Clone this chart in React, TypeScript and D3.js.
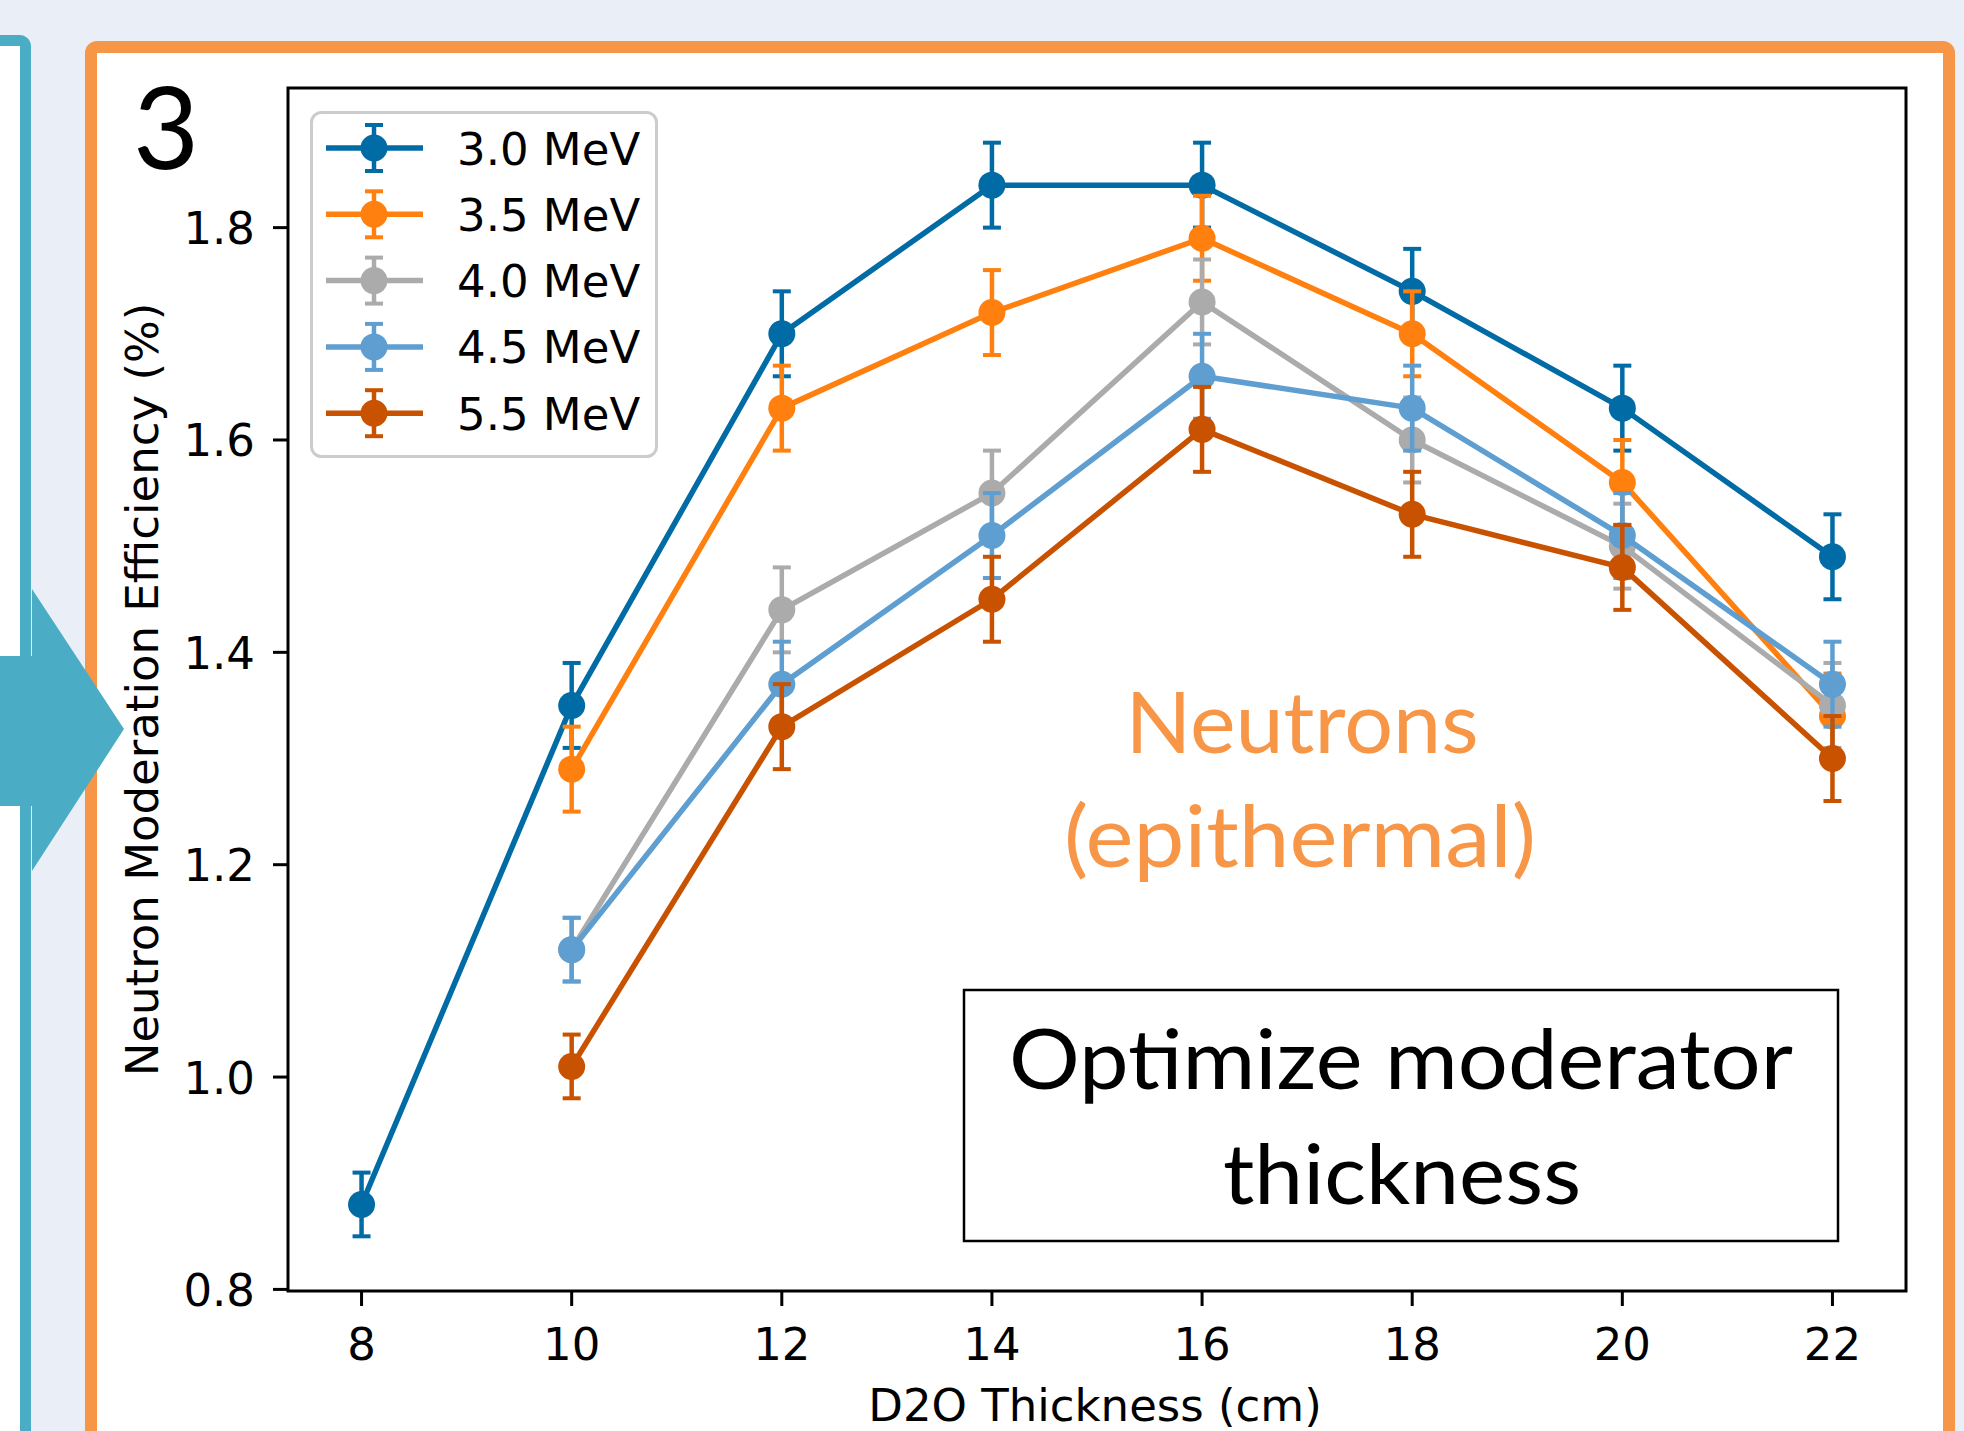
import * as d3 from 'd3';
import { useMemo } from 'react';

const WIDTH = 1964;
const HEIGHT = 1431;

// D2O moderator thickness (cm)
const thickness = [8, 10, 12, 14, 16, 18, 20, 22];
const xTicks = [8, 10, 12, 14, 16, 18, 20, 22];
const yTicks = [0.8, 1.0, 1.2, 1.4, 1.6, 1.8];

const energyLabels = ['3.0 MeV', '3.5 MeV', '4.0 MeV', '4.5 MeV', '5.5 MeV'];
const energyColors = ['#006BA4', '#FF800E', '#ABABAB', '#5F9ED1', '#C85200'];

// efficiency (%) and its error, null = not simulated
const eff30 = [0.88, 1.35, 1.70, 1.84, 1.84, 1.74, 1.63, 1.49];
const err30 = [0.03, 0.04, 0.04, 0.04, 0.04, 0.04, 0.04, 0.04];
const eff35 = [null, 1.29, 1.63, 1.72, 1.79, 1.70, 1.56, 1.34];
const err35 = [null, 0.04, 0.04, 0.04, 0.04, 0.04, 0.04, 0.04];
const eff40 = [null, 1.12, 1.44, 1.55, 1.73, 1.60, 1.50, 1.35];
const err40 = [null, 0.03, 0.04, 0.04, 0.04, 0.04, 0.04, 0.04];
const eff45 = [null, 1.12, 1.37, 1.51, 1.66, 1.63, 1.51, 1.37];
const err45 = [null, 0.03, 0.04, 0.04, 0.04, 0.04, 0.04, 0.04];
const eff55 = [null, 1.01, 1.33, 1.45, 1.61, 1.53, 1.48, 1.30];
const err55 = [null, 0.03, 0.04, 0.04, 0.04, 0.04, 0.04, 0.04];

const effSeries = [eff30, eff35, eff40, eff45, eff55];
const errSeries = [err30, err35, err40, err45, err55];

const PLOT = { left: 288, top: 88, right: 1906, bottom: 1291 };
const ORANGE = '#F79646';
const TEAL = '#4BACC6';
const BG = '#EAEFF7';
const FONT = '"DejaVu Sans", sans-serif';
const NOTE_FONT = 'Lato, "Open Sans", sans-serif';

const LINE_W = 5.5;
const BAR_W = 4.5;
const CAP = 9;
const R = 13.5;

type Pt = { x: number; v: number; e: number };

const ErrorMark = ({ cx, cy, top, bottom, color }: { cx: number; cy: number; top: number; bottom: number; color: string }) => (
  <g>
    <line x1={cx} x2={cx} y1={top} y2={bottom} stroke={color} strokeWidth={BAR_W} />
    <line x1={cx - CAP} x2={cx + CAP} y1={top} y2={top} stroke={color} strokeWidth={4} />
    <line x1={cx - CAP} x2={cx + CAP} y1={bottom} y2={bottom} stroke={color} strokeWidth={4} />
    <circle cx={cx} cy={cy} r={R} fill={color} />
  </g>
);

export default function App() {
  const xScale = useMemo(() => d3.scaleLinear().domain([7.3, 22.7]).range([PLOT.left, PLOT.right]), []);
  const yScale = useMemo(() => d3.scaleLinear().domain([0.7985, 1.9315]).range([PLOT.bottom, PLOT.top]), []);

  const series = effSeries.map((vals, s) => {
    const pts: Pt[] = [];
    vals.forEach((v, i) => {
      if (v != null) pts.push({ x: thickness[i], v: v, e: errSeries[s][i] as number });
    });
    return pts;
  });

  const lineGen = d3.line<Pt>().x(d => xScale(d.x)).y(d => yScale(d.v));

  const allShapes = series.map((pts, s) => (
    <g key={s}>
      <path d={lineGen(pts) || ''} fill="none" stroke={energyColors[s]} strokeWidth={LINE_W} strokeLinejoin="round" />
      {pts.map((d, i) => (
        <ErrorMark
          key={i}
          cx={xScale(d.x)}
          cy={yScale(d.v)}
          top={yScale(d.v + d.e)}
          bottom={yScale(d.v - d.e)}
          color={energyColors[s]}
        />
      ))}
    </g>
  ));

  const legendRowY = (i: number) => 148 + i * 66.3;

  return (
    <div>
      <svg width={WIDTH} height={HEIGHT} style={{ position: 'absolute', left: 0, top: 0, display: 'block' }}>
        <rect x={0} y={0} width={WIDTH} height={HEIGHT} fill={BG} />

        {/* previous panel (teal) */}
        <rect x={-60} y={40.5} width={85.5} height={1500} rx={6} fill="#ffffff" stroke={TEAL} strokeWidth={11} />

        {/* this panel (orange) */}
        <rect x={91} y={47} width={1858} height={1500} rx={6} fill="#ffffff" stroke={ORANGE} strokeWidth={12} />

        {/* arrow from previous panel */}
        <polygon
          points="-10,656 32,656 32,589 124,729 32,871 32,806 -10,806"
          fill={TEAL}
        />

        <text x={133} y={169} fontFamily={NOTE_FONT} fontSize={114} fill="#000">3</text>

        {/* y ticks and labels */}
        {yTicks.map(t => (
          <g key={`y${t}`}>
            <line x1={PLOT.left - 15} x2={PLOT.left} y1={yScale(t)} y2={yScale(t)} stroke="#000" strokeWidth={3} />
            <text x={PLOT.left - 33} y={yScale(t) + 16.5} textAnchor="end" fontFamily={FONT} fontSize={45} fill="#000">
              {t.toFixed(1)}
            </text>
          </g>
        ))}
        {xTicks.map(t => (
          <g key={`x${t}`}>
            <line x1={xScale(t)} x2={xScale(t)} y1={PLOT.bottom} y2={PLOT.bottom + 15} stroke="#000" strokeWidth={3} />
            <text x={xScale(t)} y={1360} textAnchor="middle" fontFamily={FONT} fontSize={45} fill="#000">
              {t}
            </text>
          </g>
        ))}

        <text x={1095} y={1421} textAnchor="middle" fontFamily={FONT} fontSize={45} fill="#000">
          D2O Thickness (cm)
        </text>
        <text
          transform={`translate(158, ${(PLOT.top + PLOT.bottom) / 2}) rotate(-90)`}
          textAnchor="middle"
          fontFamily={FONT}
          fontSize={45}
          fill="#000"
        >
          Neutron Moderation Efficiency (%)
        </text>

        {/* annotations inside the axes */}
        <text x={1302} y={753} textAnchor="middle" fontFamily={NOTE_FONT} fontSize={86} fill={ORANGE} textLength={353} lengthAdjust="spacingAndGlyphs">
          Neutrons
        </text>
        <text x={1300} y={867} textAnchor="middle" fontFamily={NOTE_FONT} fontSize={86} fill={ORANGE} textLength={472} lengthAdjust="spacingAndGlyphs">
          (epithermal)
        </text>

        <rect x={964} y={990} width={874} height={251} fill="#ffffff" stroke="#000" strokeWidth={2.5} />
        <text x={1401} y={1089} textAnchor="middle" fontFamily={NOTE_FONT} fontSize={84} fill="#000" textLength={784} lengthAdjust="spacingAndGlyphs">
          Optimize moderator
        </text>
        <text x={1402} y={1204} textAnchor="middle" fontFamily={NOTE_FONT} fontSize={84} fill="#000" textLength={358} lengthAdjust="spacingAndGlyphs">
          thickness
        </text>

        {allShapes}

        {/* legend */}
        <rect x={311.5} y={112.5} width={345} height={344} rx={10} fill="#ffffff" fillOpacity={0.85} stroke="#cccccc" strokeWidth={3} />
        {energyLabels.map((label, i) => {
          const cy = legendRowY(i);
          return (
            <g key={label}>
              <line x1={326} x2={423} y1={cy} y2={cy} stroke={energyColors[i]} strokeWidth={LINE_W} />
              <ErrorMark cx={374} cy={cy} top={cy - 23} bottom={cy + 23} color={energyColors[i]} />
              <text x={457} y={cy + 16.5} fontFamily={FONT} fontSize={45} fill="#000">{label}</text>
            </g>
          );
        })}

        <rect x={PLOT.left} y={PLOT.top} width={PLOT.right - PLOT.left} height={PLOT.bottom - PLOT.top} fill="none" stroke="#000" strokeWidth={3} />
      </svg>
    </div>
  );
}
